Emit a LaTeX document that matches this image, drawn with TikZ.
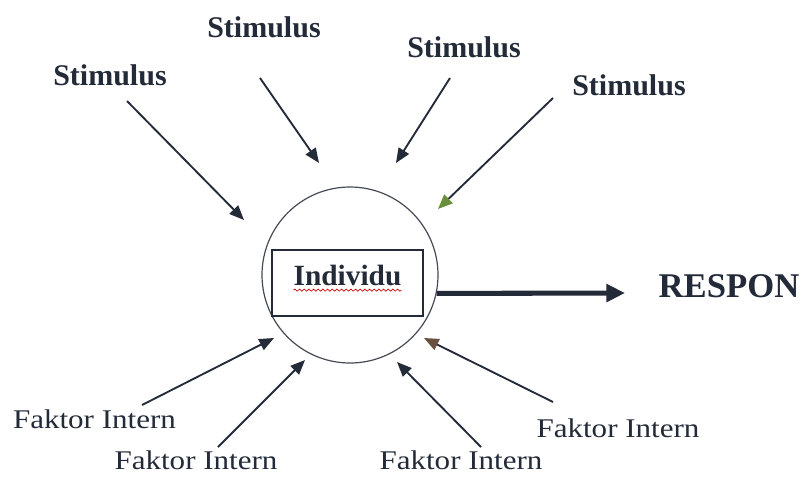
\documentclass[tikz,border=0pt]{standalone}
\usepackage{fontspec}
\setmainfont{Liberation Serif}
\newfontfamily\widefont[FakeStretch=1.15]{Liberation Serif}
\usetikzlibrary{arrows.meta}
\usetikzlibrary{decorations.pathmorphing}

\definecolor{ink}{HTML}{232A38}
\definecolor{leaf}{HTML}{6B8E3A}
\definecolor{bark}{HTML}{6A5040}

\tikzset{
	stim/.style={font=\fontsize{22.5}{26}\selectfont\bfseries, text=ink, inner sep=0pt},
	faktor/.style={font=\widefont\fontsize{20.25}{24}\selectfont, text=ink, inner sep=0pt},
	pin/.style={draw=ink, line width=1.4pt, -{Triangle[length=11pt,width=9pt]}},
}

\begin{document}
\begin{tikzpicture}[x=0.75pt,y=-0.75pt]
	\useasboundingbox (0,0) rectangle (806,476);

	% individu in the middle
	\node[circle,draw=ink!85,line width=0.9pt,minimum size=132pt,inner sep=0pt](circ) at (350,275) {};
	\node[draw=ink,line width=1.2pt,minimum width=113pt,minimum height=49.5pt,inner sep=0pt](box) at (347.5,283) {};
	\node[font=\fontsize{22}{26}\selectfont\bfseries,text=ink,inner sep=0pt](ind) at (347.5,275.5) {Individu};
	\draw[red!80!black,line width=0.5pt,decorate,decoration={snake,amplitude=0.8pt,segment length=3.5pt}]
		([yshift=-3pt]ind.south west) -- ([yshift=-3pt]ind.south east);

	% respon
	\node[font=\fontsize{26}{30}\selectfont\bfseries,text=ink,inner sep=0pt](resp) at (729,286.5) {RESPON};
	\coordinate (rtip) at (625,293);
	\draw[ink,line width=3.8pt,-{Triangle[length=14pt,width=13pt]}] (circ.-12) -- (rtip);

	% stimulus
	\node[stim](s1) at (110,75) {Stimulus};
	\node[stim](s2) at (264,27) {Stimulus};
	\node[stim](s3) at (464,47) {Stimulus};
	\node[stim](s4) at (629,85) {Stimulus};

	\coordinate (s1a) at (127,101); \coordinate (s1b) at (244,220);
	\coordinate (s2a) at (260,78);  \coordinate (s2b) at (319,163);
	\coordinate (s3a) at (450,78);  \coordinate (s3b) at (396,163);
	\coordinate (s4a) at (553,98);  \coordinate (s4b) at (438,209);

	\draw[pin] (s1a) -- (s1b);
	\draw[pin] (s2a) -- (s2b);
	\draw[pin] (s3a) -- (s3b);
	\draw[pin,-{Triangle[length=11pt,width=9pt,color=leaf]}] (s4a) -- (s4b);

	% faktor intern
	\node[faktor](f1) at (94.5,419.5) {Faktor Intern};
	\node[faktor](f2) at (196,460.5) {Faktor Intern};
	\node[faktor](f3) at (461,460.5) {Faktor Intern};
	\node[faktor](f4) at (618,428.5) {Faktor Intern};

	\coordinate (f1a) at (142,405); \coordinate (f1b) at (274,338);
	\coordinate (f2a) at (218,447); \coordinate (f2b) at (305,360);
	\coordinate (f3a) at (481,447); \coordinate (f3b) at (397,362);
	\coordinate (f4a) at (553,402); \coordinate (f4b) at (424,338);

	\draw[pin] (f1a) -- (f1b);
	\draw[pin] (f2a) -- (f2b);
	\draw[pin] (f3a) -- (f3b);
	\draw[pin,-{Triangle[length=11pt,width=9pt,color=bark]}] (f4a) -- (f4b);
\end{tikzpicture}
\end{document}
